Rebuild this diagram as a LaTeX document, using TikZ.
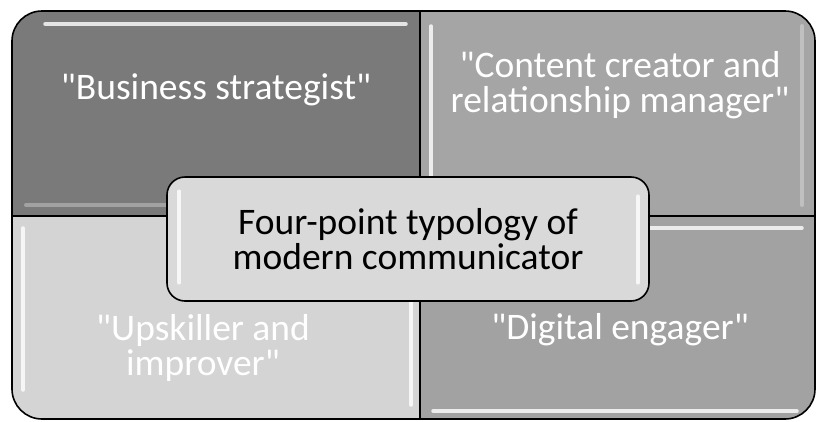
\documentclass[tikz,border=0pt]{standalone}
\usepackage{fontspec}
\setmainfont{Carlito}[Ligatures=TeXOff]
\usepackage{xcolor}
\usepackage{tikz}
\usetikzlibrary{positioning}

\definecolor{tlgray}{HTML}{7A7A7A}
\definecolor{trgray}{HTML}{A5A5A5}
\definecolor{blgray}{HTML}{D4D4D4}
\definecolor{brgray}{HTML}{A2A2A2}
\definecolor{hubgray}{HTML}{D9D9D9}

\begin{document}
\begin{tikzpicture}[
    x=1pt, y=-1pt,
    edge/.style={draw=black, line width=1.6pt},
    gloss/.style={draw=white, line width=3.5pt, line cap=round, opacity=0.8},
    faint/.style={draw=white, line width=4pt, line cap=round, opacity=0.3},
    role/.style={text=white, align=center, font=\fontsize{37.5}{34.5}\selectfont},
    hub/.style={rectangle, rounded corners=18pt, draw=black, line width=1.6pt, fill=hubgray,
        minimum width=482pt, minimum height=124pt, align=center, font=\fontsize{37.5}{34.5}\selectfont}
]
\useasboundingbox (0,0) rectangle (819,421);

% four quadrants, rounded on the outer corners only
\begin{scope}
\clip[rounded corners=30pt] (12,11) rectangle (815,419);
\fill[tlgray] (12,11) rectangle (420,216);
\fill[trgray] (420,11) rectangle (815,216);
\fill[blgray] (12,216) rectangle (420,419);
\fill[brgray] (420,216) rectangle (815,419);
% bevel highlights
\draw[gloss] (45,24) -- (406,24);
\draw[faint] (26,205) -- (406,205);
\draw[gloss] (431,26) -- (431,205);
\draw[faint] (802,26) -- (802,205);
\draw[gloss] (23,228) -- (23,390);
\draw[gloss] (411,228) -- (411,405);
\draw[gloss] (433,228) -- (802,228);
\draw[gloss] (433,411) -- (797,411);
\end{scope}
\draw[edge, rounded corners=30pt] (12,11) rectangle (815,419);
\draw[edge] (420,11) -- (420,419);
\draw[edge] (12,216) -- (815,216);

% role labels
\node[role] (strategist) at (216,90) {"Business strategist"};
\node[role] (creator) at (620,85) {"Content creator and\\relationship manager"};
\node[role] (upskiller) at (203,348) {"Upskiller and\\improver"};
\node[role] (engager) at (620,330) {"Digital engager"};

% centre box
\node[hub] (typology) at (408,239) {Four-point typology of\\modern communicator};
\draw[gloss] ([xshift=13pt, yshift=-15pt]typology.north west) -- ([xshift=13pt, yshift=19pt]typology.south west);
\draw[gloss] ([xshift=-12pt, yshift=-20pt]typology.north east) -- ([xshift=-12pt, yshift=19pt]typology.south east);
\end{tikzpicture}
\end{document}
